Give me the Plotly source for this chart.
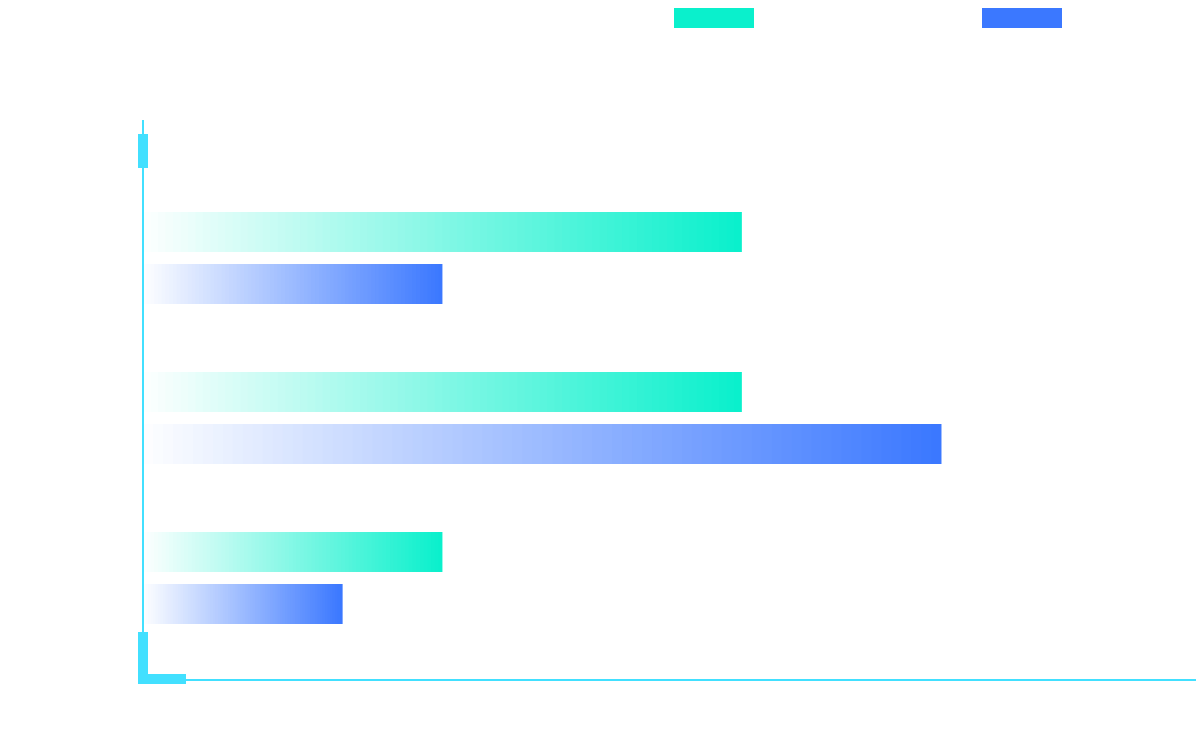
import plotly.graph_objects as go

categories = ["A", "B", "C"]
series_names = ["Series 1", "Series 2"]
series1 = [6, 6, 3]
series2 = [3, 8, 2]
colors = [(10, 240, 204), (59, 120, 255)]

N = 80
fig = go.Figure()
for name, vals, (r, g, b) in zip(series_names, [series1, series2], colors):
    ys, xs, bases, cols = [], [], [], []
    for cat, v in zip(categories, vals):
        for k in range(N):
            ys.append(cat)
            w = v / N * (1.6 if k < N - 1 else 1.0)
            xs.append(w)
            bases.append(v * k / N)
            a = (k + 1) / N
            cr = round(255 * (1 - a) + r * a)
            cg = round(255 * (1 - a) + g * a)
            cb = round(255 * (1 - a) + b * a)
            cols.append(f"rgb({cr},{cg},{cb})")
    fig.add_trace(go.Bar(y=ys, x=xs, base=bases, orientation="h", name=name,
                         marker=dict(color=cols, line=dict(width=0)),
                         showlegend=False, hoverinfo="skip"))

W, H, L, T = 1053, 560, 135, 112
OFF = 8
def px(x): return (x - OFF - L) / W
def py(y): return (T + H - (y - OFF)) / H
axc = "#42e0ff"
shapes = [
    dict(type="line", xref="paper", yref="paper", x0=0, x1=0, y0=0, y1=py(120), line=dict(color=axc, width=2)),
    dict(type="line", xref="paper", yref="paper", x0=0, x1=1, y0=0, y1=0, line=dict(color=axc, width=2)),
    dict(type="rect", xref="paper", yref="paper", x0=px(138), x1=px(148), y0=py(168), y1=py(134), fillcolor=axc, line=dict(width=0)),
    dict(type="rect", xref="paper", yref="paper", x0=px(138), x1=px(148), y0=py(684), y1=py(632), fillcolor=axc, line=dict(width=0)),
    dict(type="rect", xref="paper", yref="paper", x0=px(138), x1=px(186), y0=py(684), y1=py(674), fillcolor=axc, line=dict(width=0)),
    dict(type="rect", xref="paper", yref="paper", x0=px(674), x1=px(754), y0=py(28), y1=py(8), fillcolor="rgb(10,240,204)", line=dict(width=0)),
    dict(type="rect", xref="paper", yref="paper", x0=px(982), x1=px(1062), y0=py(28), y1=py(8), fillcolor="rgb(59,120,255)", line=dict(width=0)),
]

fig.update_layout(
    width=1204, height=736, margin=dict(l=L, r=1204 - L - W, t=T, b=736 - T - H),
    paper_bgcolor="white", plot_bgcolor="white",
    barmode="group", bargap=0.35, bargroupgap=0.2308,
    xaxis=dict(range=[0, 10.55], showgrid=False, zeroline=False, showticklabels=False, showline=False),
    yaxis=dict(range=[2.6375, -0.8625], showgrid=False, zeroline=False, showticklabels=False, showline=False),
    shapes=shapes,
)
fig.write_html("out.html")
